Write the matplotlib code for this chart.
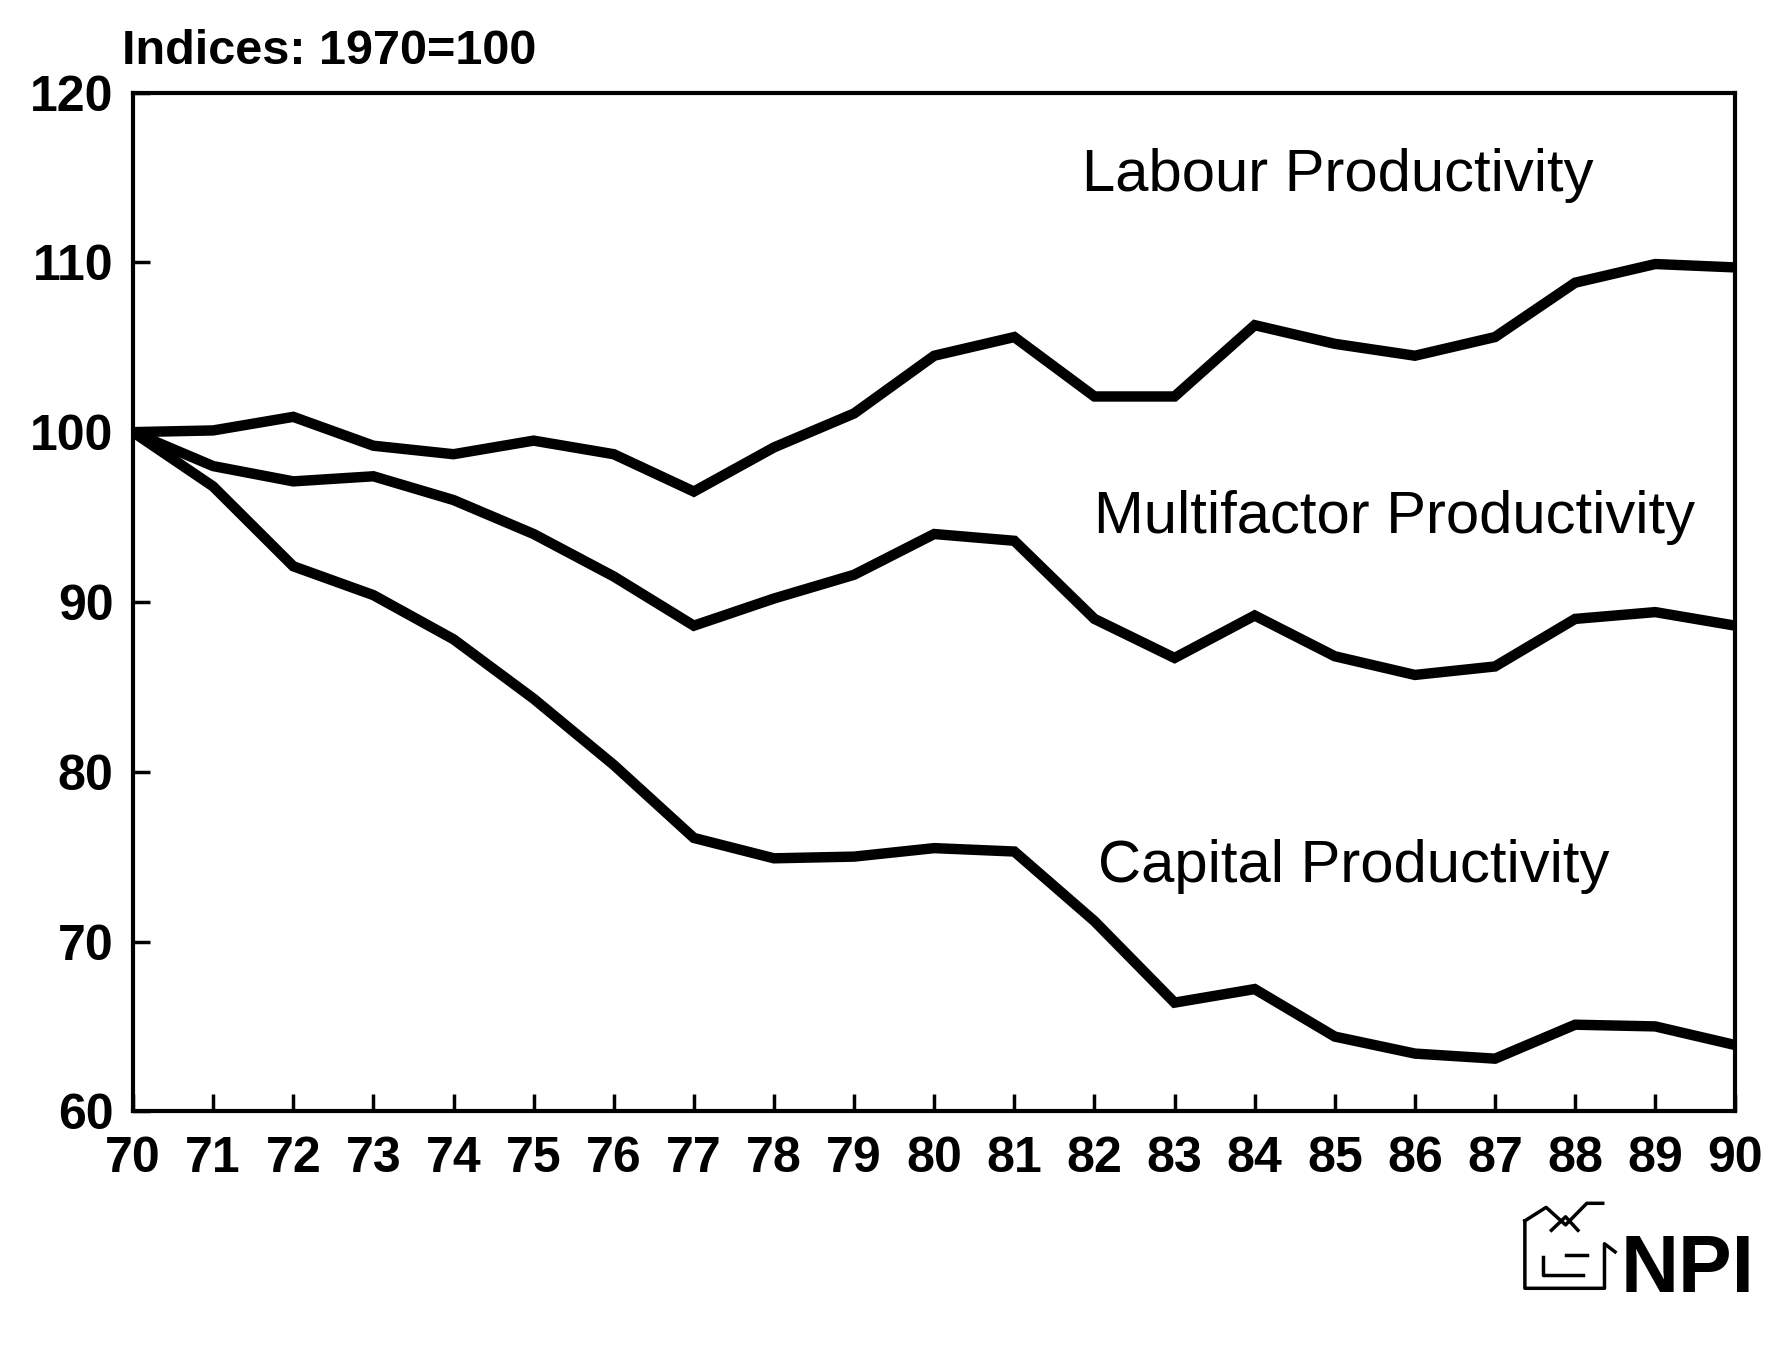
import matplotlib
matplotlib.use("Agg")
import matplotlib.pyplot as plt
from matplotlib.lines import Line2D

plt.rcParams['font.family'] = ['Liberation Sans', 'DejaVu Sans']

years = list(range(1970, 1991))
year_labels = [str(y)[2:] for y in years]

labour = [100.0, 100.1, 100.9, 99.2, 98.7, 99.5, 98.7, 96.5, 99.1, 101.1, 104.5,
          105.6, 102.1, 102.1, 106.3, 105.2, 104.5, 105.6, 108.8, 109.9, 109.7]
multifactor = [100.0, 98.0, 97.1, 97.4, 96.0, 94.0, 91.5, 88.6, 90.2, 91.6, 94.0,
               93.6, 89.0, 86.7, 89.2, 86.8, 85.7, 86.2, 89.0, 89.4, 88.6]
capital = [100.0, 96.8, 92.1, 90.4, 87.8, 84.3, 80.4, 76.1, 74.9, 75.0, 75.5,
           75.3, 71.2, 66.4, 67.2, 64.4, 63.4, 63.1, 65.1, 65.0, 63.9]

series_names = ["Labour Productivity", "Multifactor Productivity", "Capital Productivity"]
series_values = [labour, multifactor, capital]
label_anchor = [(1981.85, 115.1), (1982.0, 95.0), (1982.05, 74.4)]

y_ticks = [60, 70, 80, 90, 100, 110, 120]

fig = plt.figure(figsize=(17.69, 13.49), dpi=100)
ax = fig.add_axes([0.0752, 0.1762, 0.9058, 0.7552])

for vals in series_values:
    ax.plot(years, vals, color='black', lw=7.5, solid_joinstyle='miter',
            solid_capstyle='butt')

for name, (x, y) in zip(series_names, label_anchor):
    ax.text(x, y, name, fontsize=43, ha='left', va='center', color='black')

ax.set_xlim(1970, 1990)
ax.set_ylim(60, 120)
ax.set_xticks(years)
ax.set_xticklabels(year_labels)
ax.set_yticks(y_ticks)
ax.set_yticklabels([str(v) for v in y_ticks])

for lab in ax.get_xticklabels() + ax.get_yticklabels():
    lab.set_fontweight('bold')
    lab.set_fontsize(36)

ax.tick_params(axis='both', direction='in', length=12, width=2.5, colors='black')
ax.tick_params(axis='x', pad=18)
ax.tick_params(axis='y', pad=14)

for sp in ax.spines.values():
    sp.set_linewidth(3)
    sp.set_color('black')

fig.text(0.069, 0.962, "Indices: 1970=100", fontsize=35, fontweight='bold',
         ha='left', va='center')

# NPI mark in the lower right corner
fig.text(0.916, 0.058, "NPI", fontsize=58, fontweight='bold', ha='left', va='center')
icon = [
    [(0.862, 0.095), (0.862, 0.045), (0.907, 0.045), (0.907, 0.078), (0.913, 0.072)],
    [(0.862, 0.095), (0.874, 0.105), (0.885, 0.092), (0.897, 0.108), (0.906, 0.108)],
    [(0.872, 0.068), (0.872, 0.055), (0.895, 0.055)],
    [(0.885, 0.070), (0.897, 0.070)],
    [(0.877, 0.088), (0.885, 0.098), (0.892, 0.088)],
]
for pts in icon:
    xs, ys = zip(*pts)
    fig.add_artist(Line2D(xs, ys, transform=fig.transFigure, color='black', lw=2.5))

fig.savefig("out.png", dpi=100, facecolor='white')
